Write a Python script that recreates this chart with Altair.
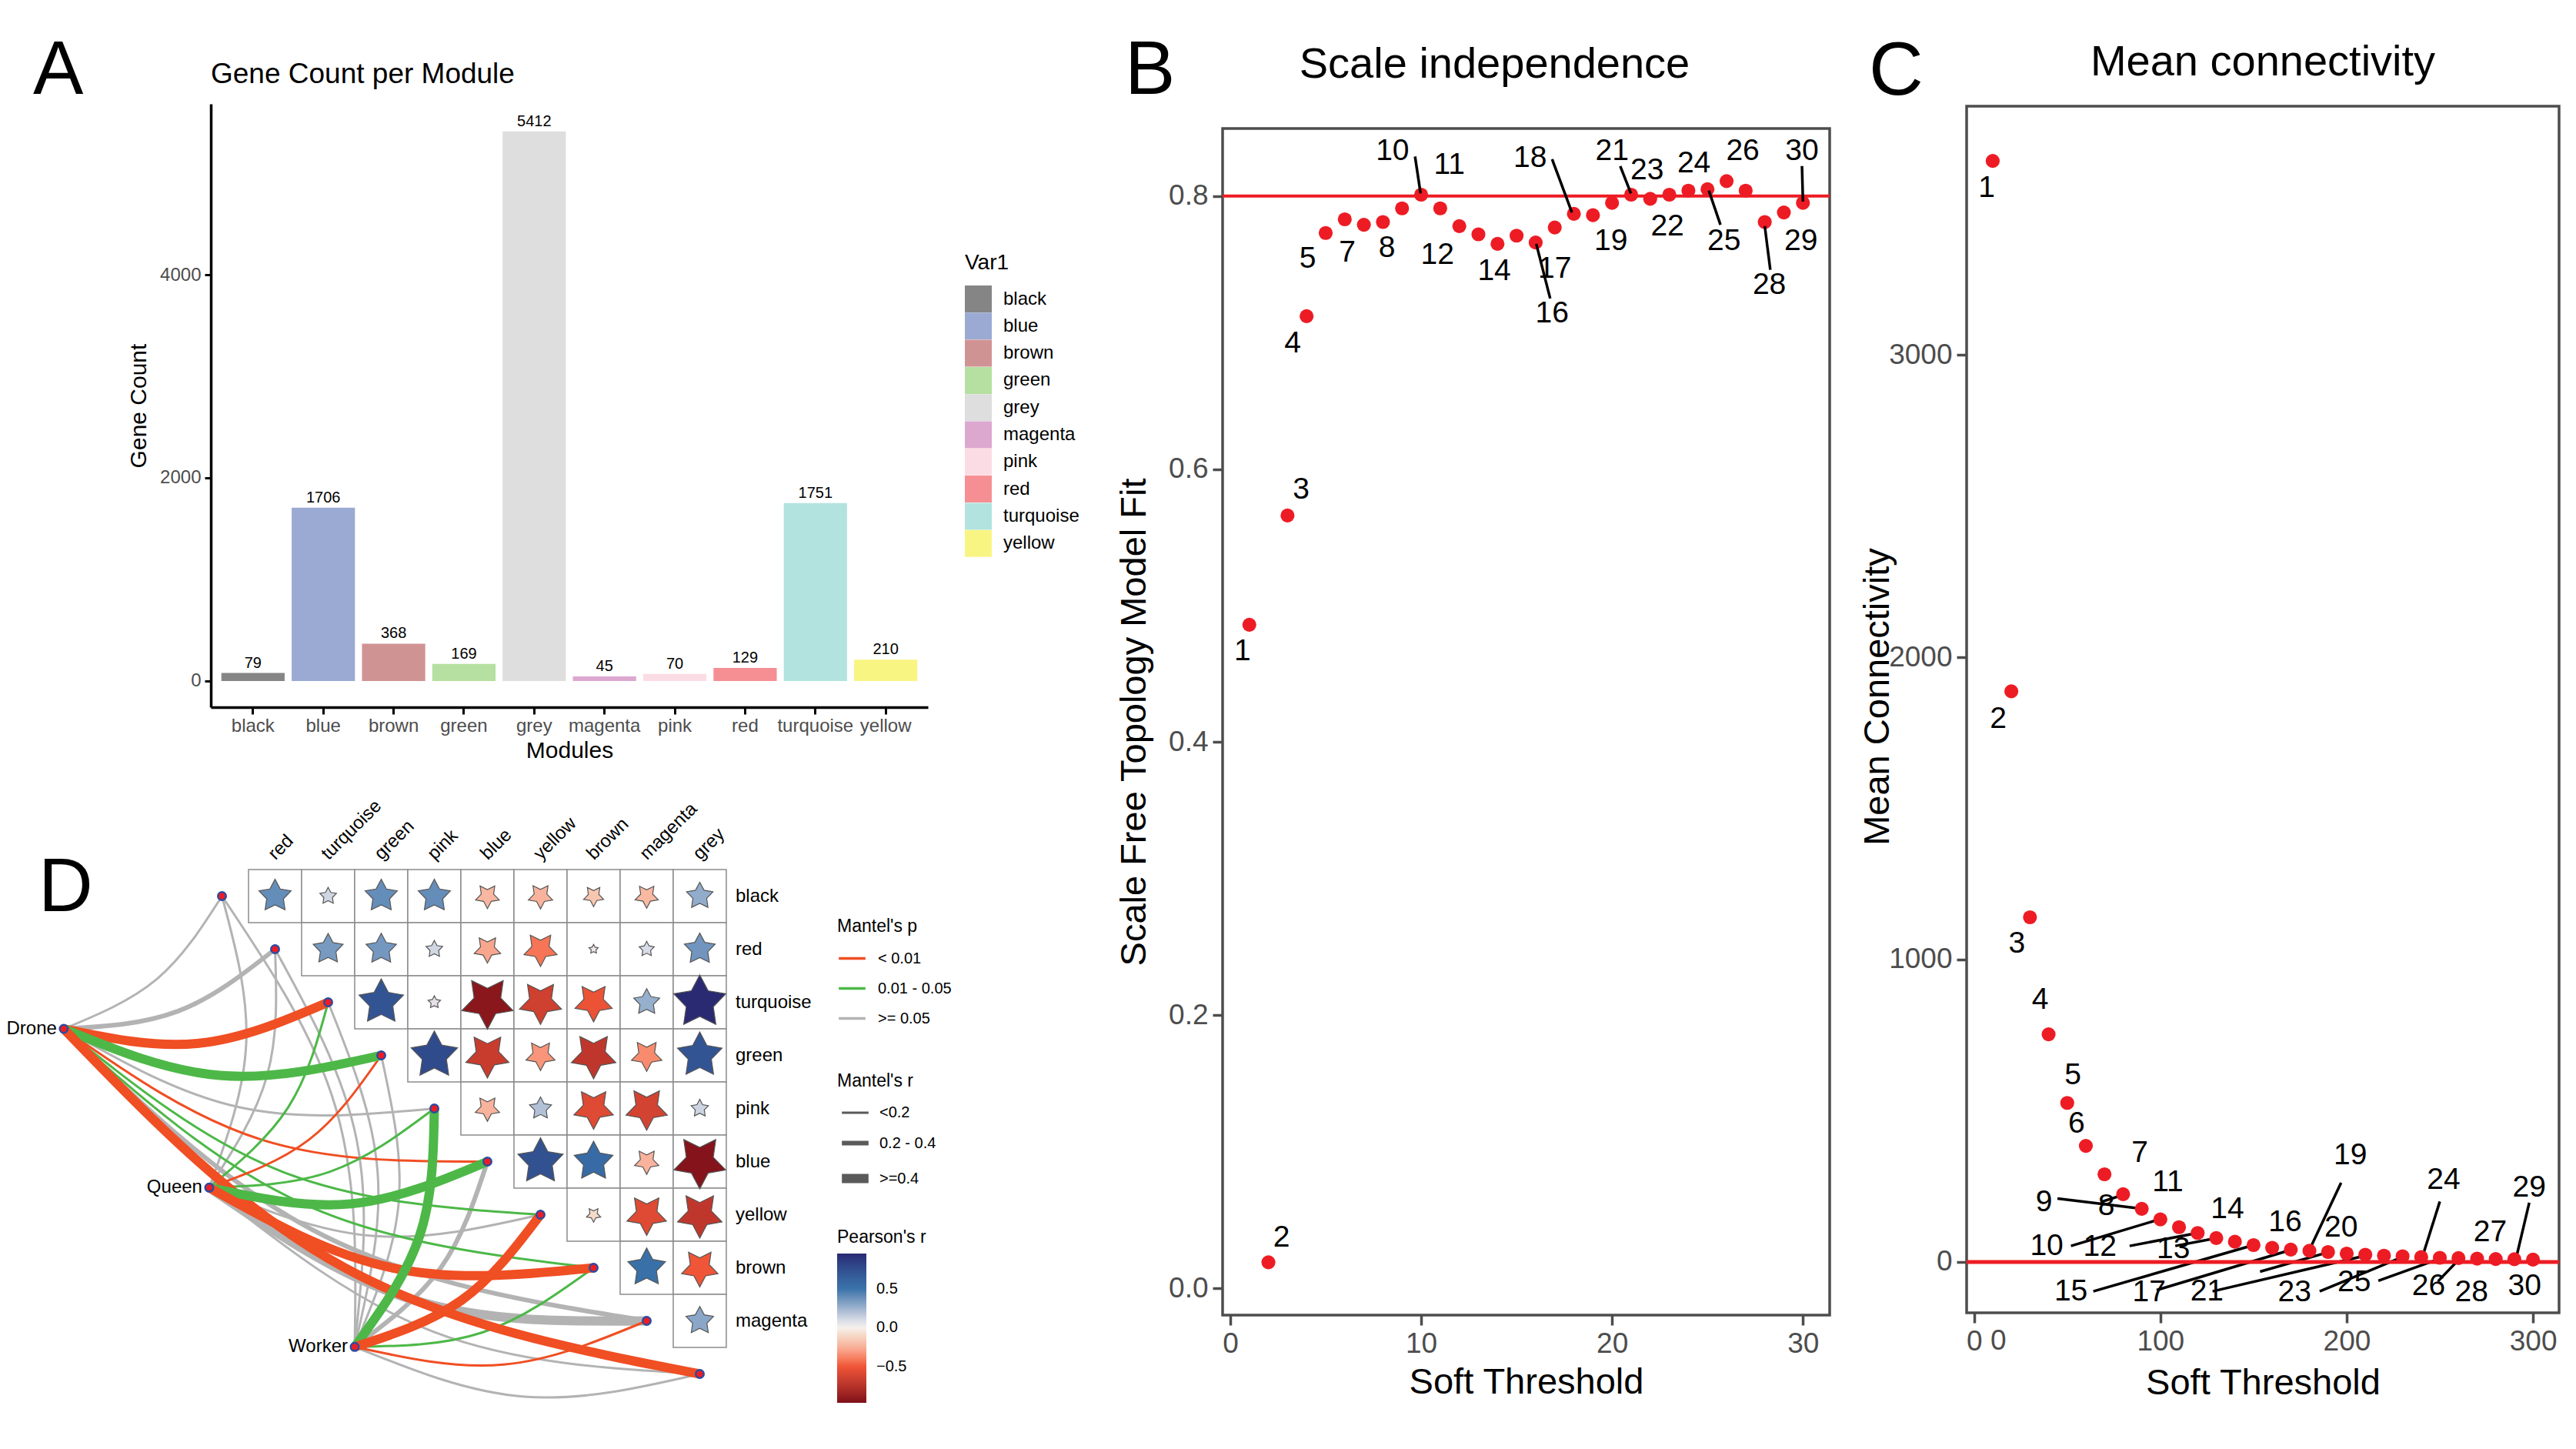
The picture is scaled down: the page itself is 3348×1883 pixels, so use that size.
import math
import altair as alt
import pandas as pd

FONT = "Liberation Sans"
GREY_TXT = "#4D4D4D"
RED = "#ED1C24"

# ---------- Panel A
modules = ["black", "blue", "brown", "green", "grey", "magenta", "pink", "red", "turquoise", "yellow"]
gene_counts = [79, 1706, 368, 169, 5412, 45, 70, 129, 1751, 210]
module_colors = ["#858585", "#9BAAD2", "#D09394", "#B5E0A1", "#DEDEDE", "#DCA8D0", "#FCDCE4", "#F68F94", "#B2E3DF", "#F9F583"]

# ---------- Panel B
b_power = list(range(1, 31))
b_fit = [0.486, 0.019, 0.566, 0.712, 0.773, 0.783, 0.779, 0.781, 0.791, 0.801,
         0.791, 0.778, 0.772, 0.765, 0.771, 0.766, 0.777, 0.787, 0.786, 0.795,
         0.801, 0.798, 0.801, 0.804, 0.805, 0.811, 0.804, 0.781, 0.788, 0.795]
b_lab = ["1", "2", "3", "4", "5", "7", "8", "10", "11", "12", "14", "16", "17", "18", "19", "21", "22", "23", "24", "25", "26", "28", "29", "30"]
b_lab_x = [0.64, 2.69, 3.71, 3.27, 4.06, 6.13, 8.21, 8.5, 11.48, 10.85, 13.83, 16.86, 17.0, 15.71, 19.94, 20.0, 22.9, 21.84, 24.29, 25.87, 26.85, 28.24, 29.9, 29.95]
b_lab_y = [0.467, 0.037, 0.585, 0.692, 0.754, 0.759, 0.762, 0.833, 0.823, 0.757, 0.745, 0.714, 0.747, 0.828, 0.767, 0.833, 0.778, 0.819, 0.824, 0.767, 0.833, 0.735, 0.767, 0.833]
b_seg_x = [9.68, 16.86, 20.43, 16.03, 25.07, 28.0, 29.95]
b_seg_x2 = [9.97, 17.9, 20.99, 16.76, 25.68, 28.29, 30.0]
b_seg_y = [0.829, 0.827, 0.822, 0.765, 0.804, 0.778, 0.822]
b_seg_y2 = [0.802, 0.788, 0.802, 0.725, 0.779, 0.746, 0.796]

# ---------- Panel C
c_power = list(range(10, 310, 10))
c_conn = [3641, 1887, 1140, 753, 526, 384, 290, 224, 176, 141, 115, 96, 79, 67, 56,
          47, 41, 37, 33, 28, 24, 21, 19, 16, 14, 13, 11, 10, 9, 8]
c_lab = ["1", "2", "3", "4", "5", "6", "7", "8", "9", "10", "11", "12", "13", "14", "15", "16", "17", "19", "20", "21", "23", "24", "25", "26", "27", "28", "29", "30"]
c_lab_x = [6.75, 13, 23, 35.5, 53, 55, 89, 71, 37.5, 39, 104, 67.5, 107, 136, 52, 167, 94, 202, 197, 125, 172, 252, 204, 244, 277, 267, 298, 295.5]
c_lab_y = [3552, 1797, 1053, 867, 619, 458, 362, 186, 198, 53, 265, 50, 43, 176, -97, 133, -100, 354, 115, -97, -100, 272, -67, -79, 100, -100, 248, -79]
c_seg_x = [44.75, 68, 52, 83.5, 108, 64, 98, 197, 153.5, 128, 185.5, 250, 217, 249, 298]
c_seg_x2 = [90, 80, 100, 120, 130, 150, 170, 180, 190, 210, 229, 241, 250, 260, 291]
c_seg_y = [210, 198, 53, 53, 53, -97, -93, 262, -32, -97, -97, 200, -62, -64, 196]
c_seg_y2 = [176, 222, 142, 96, 79, 56, 40, 40, 32, 21, 14, 24, 11, 7, 14]

# ---------- Panel D
col_names = ["red", "turquoise", "green", "pink", "blue", "yellow", "brown", "magenta", "grey"]
row_names = ["black", "red", "turquoise", "green", "pink", "blue", "yellow", "brown", "magenta"]
corr_rows = [
    [0.40, 0.12, 0.40, 0.40, -0.23, -0.24, -0.17, -0.22, 0.28],
    [0.35, 0.36, 0.12, -0.28, -0.42, 0.04, 0.10, 0.37],
    [0.72, 0.07, -0.93, -0.65, -0.52, 0.27, 0.96],
    [0.78, -0.68, -0.33, -0.72, -0.36, 0.72],
    [-0.24, 0.20, -0.58, -0.63, 0.13],
    [0.74, 0.56, -0.24, -0.95],
    [-0.09, -0.58, -0.72],
    [0.53, -0.50],
    [0.30],
]
node_names = row_names + ["grey"]
env_names = ["Drone", "Queen", "Worker"]
env_x = [-3.98, -1.24, 1.5]
env_y = [2.5, 5.49, 8.49]
P_LOW, P_MID, P_HIGH = "< 0.01", "0.01 - 0.05", ">= 0.05"
R_LOW, R_MID, R_HIGH = "<0.2", "0.2 - 0.4", ">=0.4"
edges = [
    ("Drone", "black", P_HIGH, R_LOW), ("Drone", "red", P_HIGH, R_MID), ("Drone", "pink", P_HIGH, R_LOW),
    ("Drone", "magenta", P_HIGH, R_MID),
    ("Queen", "black", P_HIGH, R_LOW), ("Queen", "red", P_HIGH, R_LOW), ("Queen", "yellow", P_HIGH, R_LOW),
    ("Queen", "magenta", P_HIGH, R_HIGH), ("Queen", "grey", P_HIGH, R_LOW),
    ("Worker", "black", P_HIGH, R_LOW), ("Worker", "red", P_HIGH, R_LOW), ("Worker", "turquoise", P_HIGH, R_LOW),
    ("Worker", "green", P_HIGH, R_LOW), ("Worker", "blue", P_HIGH, R_MID), ("Worker", "grey", P_HIGH, R_LOW),
    ("Drone", "yellow", P_MID, R_LOW), ("Drone", "brown", P_MID, R_LOW), ("Drone", "blue", P_LOW, R_LOW),
    ("Queen", "turquoise", P_MID, R_LOW), ("Queen", "green", P_LOW, R_LOW), ("Queen", "pink", P_MID, R_LOW),
    ("Worker", "brown", P_MID, R_LOW), ("Worker", "magenta", P_LOW, R_LOW),
    ("Drone", "turquoise", P_LOW, R_HIGH), ("Drone", "green", P_MID, R_HIGH), ("Drone", "grey", P_LOW, R_HIGH),
    ("Queen", "blue", P_MID, R_HIGH), ("Queen", "brown", P_LOW, R_HIGH),
    ("Worker", "pink", P_MID, R_HIGH), ("Worker", "yellow", P_LOW, R_HIGH),
]
CURVE = 0.105


def star_path(flip):
    pts = []
    for k in range(10):
        rad = 1.0 if k % 2 == 0 else 0.52
        ang = math.pi * k / 5
        sx, sy = rad * math.sin(ang), -rad * math.cos(ang)
        pts.append(f"{sx:.3f},{(-sy if flip else sy):.3f}")
    return "M" + " L".join(pts) + " Z"


def plain_title(text, size, **kw):
    return alt.TitleParams(text=text, font=FONT, fontSize=size, fontWeight="normal", color="black", frame="group", **kw)


def letter(text, px, py):
    return alt.Chart(pd.DataFrame({"t": [text]})).mark_text(
        font=FONT, fontSize=98, color="black", align="left", baseline="alphabetic"
    ).encode(x=alt.value(px), y=alt.value(py), text="t:N")


def spacer(text, px, py):
    return letter(text, px, py).properties(width=1, height=1, view=alt.ViewBackground(stroke="transparent"))


# ---------- chart A
df_a = pd.DataFrame({"m": modules, "n": gene_counts})
a_x = alt.X("m:N", sort=modules, title="Modules",
            scale=alt.Scale(domain=modules, paddingInner=0.1, paddingOuter=0.15),
            axis=alt.Axis(labelAngle=0, labelFont=FONT, labelFontSize=24, labelColor=GREY_TXT,
                          titleFont=FONT, titleFontSize=30, titleFontWeight="normal", titleColor="black",
                          domainColor="black", domainWidth=3.5, tickColor="black", tickWidth=3, tickSize=9,
                          labelPadding=3, titlePadding=5, grid=False, labelOverlap=False))
a_y = alt.Y("n:Q", title="Gene Count", scale=alt.Scale(domain=[-258, 5682], nice=False, zero=False),
            axis=alt.Axis(values=[0, 2000, 4000], format="d", labelFont=FONT, labelFontSize=24, labelColor=GREY_TXT,
                          titleFont=FONT, titleFontSize=30, titleFontWeight="normal", titleColor="black",
                          domainColor="black", domainWidth=3.5, tickColor="black", tickWidth=3, tickSize=8,
                          labelPadding=5, titlePadding=12, grid=False))
a_bars = alt.Chart(df_a).mark_bar().encode(
    x=a_x,
    y=a_y,
    y2=alt.Y2(datum=0),
    color=alt.Color("m:N", sort=modules, scale=alt.Scale(domain=modules, range=module_colors),
                    legend=alt.Legend(title="Var1", orient="none", legendX=980, legendY=193,
                                      titleFont=FONT, titleFontSize=28, titleFontWeight="normal",
                                      titleColor="black", labelFont=FONT, labelFontSize=24, labelColor="black",
                                      symbolType="square", symbolSize=1225, symbolStrokeWidth=0,
                                      labelOffset=15, rowPadding=0.3, titlePadding=15)),
)
a_text = alt.Chart(df_a).mark_text(font=FONT, fontSize=20, baseline="bottom", dy=-3, color="black").encode(
    x=alt.X("m:N", sort=modules), y="n:Q", text="n:Q")
chart_a = alt.layer(a_bars, a_text).properties(
    width=932, height=784, view=alt.ViewBackground(stroke="transparent"),
    title=plain_title("Gene Count per Module", 37, anchor="start", offset=19),
)


# ---------- B / C helpers
def axis(values, fmt="d", **kw):
    return alt.Axis(values=values, format=fmt, grid=False, domain=False, labelFont=FONT, labelFontSize=37, labelColor=GREY_TXT,
                    titleFont=FONT, titleFontSize=47, titleFontWeight="normal", titleColor="black",
                    tickColor=GREY_TXT, tickWidth=3.5, tickSize=13, labelPadding=6, **kw)


FRAME = alt.ViewBackground(stroke=GREY_TXT, strokeWidth=3.5)

# ---------- chart B
df_b = pd.DataFrame({"x": b_power, "y": b_fit})
df_bl = pd.DataFrame({"x": b_lab_x, "y": b_lab_y, "t": b_lab})
df_bs = pd.DataFrame({"x": b_seg_x, "x2": b_seg_x2, "y": b_seg_y, "y2": b_seg_y2})
b_xs = alt.Scale(domain=[-0.40, 31.4], nice=False, zero=False)
b_ys = alt.Scale(domain=[-0.0197, 0.8495], nice=False, zero=False)
b_pts = alt.Chart(df_b).mark_circle(size=330, color=RED, opacity=1).encode(
    x=alt.X("x:Q", title="Soft Threshold", scale=b_xs, axis=axis([0, 10, 20, 30], titlePadding=9)),
    y=alt.Y("y:Q", title="Scale Free Topology Model Fit", scale=b_ys,
            axis=axis([0.0, 0.2, 0.4, 0.6, 0.8], fmt=".1f", titlePadding=20)),
)
b_line = alt.Chart(pd.DataFrame({"y": [0.8]})).mark_rule(color=RED, strokeWidth=4).encode(y="y:Q")
b_seg = alt.Chart(df_bs).mark_rule(color="black", strokeWidth=3.5).encode(x="x:Q", x2="x2:Q", y="y:Q", y2="y2:Q")
b_txt = alt.Chart(df_bl).mark_text(font=FONT, fontSize=39, color="black").encode(x="x:Q", y="y:Q", text="t:N")
chart_b = alt.layer(b_pts, b_line, b_seg, b_txt).properties(
    width=789, height=1542, view=FRAME,
    title=plain_title("Scale independence", 56, anchor="middle", offset=54, dx=-41),
)

# ---------- chart C
df_c = pd.DataFrame({"x": c_power, "y": c_conn})
df_cl = pd.DataFrame({"x": c_lab_x, "y": c_lab_y, "t": c_lab})
df_cs = pd.DataFrame({"x": c_seg_x, "x2": c_seg_x2, "y": c_seg_y, "y2": c_seg_y2})
c_xs = alt.Scale(domain=[-4, 314], nice=False, zero=False)
c_ys = alt.Scale(domain=[-168, 3822], nice=False, zero=False)
c_seg = alt.Chart(df_cs).mark_rule(color="black", strokeWidth=3.5).encode(
    x=alt.X("x:Q", title="Soft Threshold", scale=c_xs, axis=axis([0, 100, 200, 300], titlePadding=13)),
    x2="x2:Q",
    y=alt.Y("y:Q", title="Mean Connectivity", scale=c_ys,
            axis=axis([0, 1000, 2000, 3000], titleX=-92, titleY=767)),
    y2="y2:Q",
)
c_pts = alt.Chart(df_c).mark_circle(size=330, color=RED, opacity=1).encode(x="x:Q", y="y:Q")
c_line = alt.Chart(pd.DataFrame({"y": [0]})).mark_rule(color=RED, strokeWidth=5).encode(y="y:Q")
c_txt = alt.Chart(df_cl).mark_text(font=FONT, fontSize=39, color="black").encode(x="x:Q", y="y:Q", text="t:N")
c_extra = alt.Chart(pd.DataFrame({"x": [13], "y": [-168], "t": ["0"]})).mark_text(
    font=FONT, fontSize=37, color=GREY_TXT, baseline="top", dy=19).encode(x="x:Q", y="y:Q", text="t:N")
chart_c = alt.layer(c_seg, c_pts, c_line, c_txt, c_extra).properties(
    width=770, height=1568, view=FRAME,
    title=plain_title("Mean connectivity", 56, anchor="middle", offset=28),
)

# ---------- chart D
cells = []
for j, row in enumerate(corr_rows):
    offset = len(col_names) - len(row)
    for k, r in enumerate(row):
        i = offset + k
        cells.append({"x": i - 0.5, "x2": i + 0.5, "y": j - 0.5, "y2": j + 0.5, "cx": i, "cy": j, "r": r, "a": abs(r),
                      "row": row_names[j], "col": col_names[i]})
df_cells = pd.DataFrame(cells)
node_pos = {n: (k - 1, k) for k, n in enumerate(node_names)}
env_pos = dict(zip(env_names, zip(env_x, env_y)))
lines = []
for e, (env, node, pc, rc) in enumerate(edges):
    ax, ay = env_pos[env]
    bx, by = node_pos[node]
    dx, dy = bx - ax, by - ay
    lines.append({"e": e, "o": 0, "x": ax, "y": ay, "p": pc, "w": rc})
    lines.append({"e": e, "o": 1, "x": (ax + bx) / 2 - dy * CURVE, "y": (ay + by) / 2 + dx * CURVE, "p": pc, "w": rc})
    lines.append({"e": e, "o": 2, "x": bx, "y": by, "p": pc, "w": rc})
df_lines = pd.DataFrame(lines)
df_nodes = pd.DataFrame({"x": [node_pos[n][0] for n in node_names] + env_x,
                         "y": [node_pos[n][1] for n in node_names] + env_y})
df_env = pd.DataFrame({"x": env_x, "y": env_y, "t": env_names})
df_collab = pd.DataFrame({"x": [i - 0.064 for i in range(9)], "y": [-0.738] * 9, "t": col_names})
df_rowlab = pd.DataFrame({"x": [8.5] * 9, "y": list(range(9)), "t": row_names})

d_xs = alt.Scale(domain=[-1.21, 8.79], nice=False, zero=False)
d_ys = alt.Scale(domain=[9.5, -0.5], nice=False, zero=False)
leg = dict(orient="none", titleFont=FONT, titleFontSize=23, titleFontWeight="normal", titleColor="black",
           labelFont=FONT, labelFontSize=20, labelColor="black", legendX=814)

d_edges = alt.Chart(df_lines).mark_line(interpolate="natural", strokeCap="butt").encode(
    x=alt.X("x:Q", scale=d_xs, axis=None),
    y=alt.Y("y:Q", scale=d_ys, axis=None),
    order="o:Q",
    detail="e:N",
    stroke=alt.Stroke("p:N", scale=alt.Scale(domain=[P_LOW, P_MID, P_HIGH], range=["#F04E23", "#4DB848", "#B3B3B3"]),
                      legend=alt.Legend(title="Mantel's p", legendY=1058, symbolType="stroke", symbolSize=1200,
                                        symbolStrokeWidth=3.5, rowPadding=9, labelOffset=14, titlePadding=10, **leg)),
    strokeWidth=alt.StrokeWidth("w:O", scale=alt.Scale(type="ordinal", domain=[R_LOW, R_MID, R_HIGH], range=[3, 6, 12]),
                                legend=alt.Legend(title="Mantel's r", legendY=1259, symbolType="stroke", symbolSize=1200,
                                                  symbolStrokeColor="#5A5A5A", rowPadding=9, labelOffset=8, titlePadding=10, **leg)),
)
d_cells = alt.Chart(df_cells).mark_rect(fill="white", stroke="#8C8C8C", strokeWidth=1.5).encode(
    x="x:Q", x2="x2:Q", y="y:Q", y2="y2:Q")
fill_scale = alt.Scale(domain=[-0.97, -0.75, -0.5, -0.25, 0, 0.1, 0.25, 0.5, 0.75, 0.96],
                       range=["#7F1019", "#B8332A", "#F05537", "#F9B09B", "#F5F0EC", "#D8DCE6", "#9DB4CF", "#3B74AB", "#32508F", "#2A2A72"])
size_scale = alt.Scale(type="pow", exponent=1.1, domain=[0, 1], range=[0, 5300])
fill_enc = alt.Fill("r:Q", scale=fill_scale,
                    legend=alt.Legend(title="Pearson's r", legendY=1462, values=[-0.5, 0, 0.5], format=".1f",
                                      gradientLength=194, gradientThickness=38, labelOffset=13, titlePadding=9, **leg))
stars_up = alt.Chart(df_cells).transform_filter("datum.r >= 0").mark_point(
    shape=star_path(False), filled=True, stroke="#555555", strokeWidth=1.2, opacity=1
).encode(x="cx:Q", y="cy:Q", fill=fill_enc, size=alt.Size("a:Q", scale=size_scale, legend=None))
stars_down = alt.Chart(df_cells).transform_filter("datum.r < 0").mark_point(
    shape=star_path(True), filled=True, stroke="#555555", strokeWidth=1.2, opacity=1
).encode(x="cx:Q", y="cy:Q", fill=alt.Fill("r:Q", scale=fill_scale), size=alt.Size("a:Q", scale=size_scale, legend=None))
d_nodes = alt.Chart(df_nodes).mark_point(filled=True, fill=RED, stroke="#2B4BA0", strokeWidth=2.5, size=110, opacity=1).encode(
    x="x:Q", y="y:Q")
d_envtxt = alt.Chart(df_env).mark_text(font=FONT, fontSize=24, align="right", dx=-9, color="black").encode(
    x="x:Q", y="y:Q", text="t:N")
d_coltxt = alt.Chart(df_collab).mark_text(font=FONT, fontSize=24, align="left", baseline="middle", angle=315,
                                          color="black").encode(x="x:Q", y="y:Q", text="t:N")
d_rowtxt = alt.Chart(df_rowlab).mark_text(font=FONT, fontSize=24, align="left", baseline="middle", dx=12,
                                          color="black").encode(x="x:Q", y="y:Q", text="t:N")
chart_d = alt.layer(d_edges, d_cells, stars_up, stars_down, d_nodes, d_envtxt, d_coltxt, d_rowtxt,
                    letter("D", -224, 54), letter("A", -231, -1008)).resolve_scale(fill="shared", size="shared").properties(
    width=690, height=690, view=alt.ViewBackground(stroke="transparent"))

left = alt.vconcat(chart_a, chart_d, spacing=211, bounds="flush")
col_b = alt.vconcat(spacer("B", -127, -13), chart_b, spacing=31, bounds="flush")
col_c = alt.vconcat(spacer("C", -127, -12), chart_c, spacing=2, bounds="flush")
right = alt.hconcat(col_b, col_c, spacing=967, bounds="flush")
chart = alt.hconcat(left, right, spacing=1315, bounds="flush").properties(
    padding={"left": 0, "top": 35, "right": 0, "bottom": 0}
).configure_view(stroke=None)

chart.save("out.html", embed_options={"renderer": "svg", "actions": False})
